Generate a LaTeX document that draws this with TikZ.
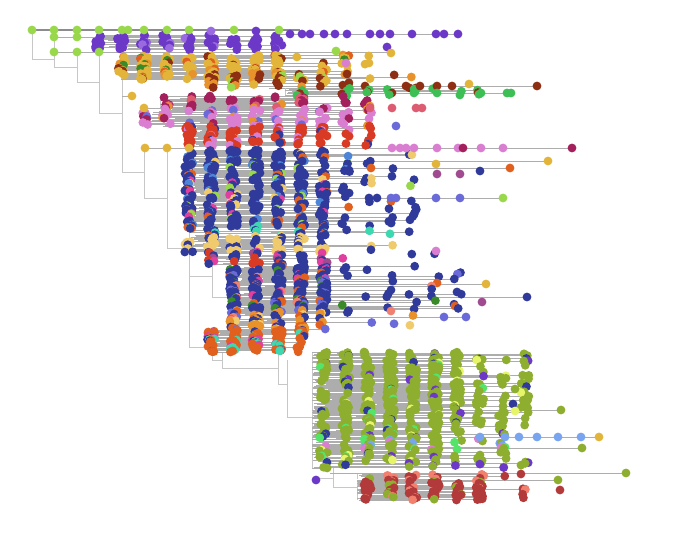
\documentclass[tikz,border=0pt]{standalone}
\usepackage{tikz}

\definecolor{cLime}{HTML}{98D84A}
\definecolor{cPurple}{HTML}{6C38C8}
\definecolor{cLilac}{HTML}{9A6AE0}
\definecolor{cGold}{HTML}{E2B53A}
\definecolor{cBrown}{HTML}{8E2E12}
\definecolor{cGreen}{HTML}{3EBF55}
\definecolor{cDkGreen}{HTML}{3A8A2A}
\definecolor{cMaroon}{HTML}{A4205C}
\definecolor{cRose}{HTML}{DD5C72}
\definecolor{cPink}{HTML}{D97ED0}
\definecolor{cRed}{HTML}{D83A24}
\definecolor{cNavy}{HTML}{2F3A9A}
\definecolor{cSlate}{HTML}{6A6AD8}
\definecolor{cSky}{HTML}{4C84D8}
\definecolor{cTeal}{HTML}{3ED8B0}
\definecolor{cSand}{HTML}{EFCB6E}
\definecolor{cMagenta}{HTML}{E03FA0}
\definecolor{cPlum}{HTML}{A04A90}
\definecolor{cOrange}{HTML}{E2601E}
\definecolor{cTan}{HTML}{E8922C}
\definecolor{cSalmon}{HTML}{F2806E}
\definecolor{cOlive}{HTML}{8EAE2F}
\definecolor{cSpring}{HTML}{55E46A}
\definecolor{cLemon}{HTML}{E6F56A}
\definecolor{cCorn}{HTML}{78A4F0}
\definecolor{cWine}{HTML}{B33A3A}

\pgfmathdeclarerandomlist{purpleL}{{cPurple}{cPurple}{cPurple}{cPurple}{cPurple}{cPurple}{cPurple}{cLilac}}
\pgfmathdeclarerandomlist{goldL}{{cGold}{cGold}{cGold}{cGold}{cGold}{cGold}{cGold}{cGold}{cGold}{cTan}{cBrown}{cDkGreen}{cOrange}}
\pgfmathdeclarerandomlist{brownL}{{cBrown}{cBrown}{cBrown}{cBrown}{cBrown}{cGold}{cTan}{cLime}}
\pgfmathdeclarerandomlist{greenL}{{cGreen}{cGreen}{cGreen}{cGreen}{cBrown}}
\pgfmathdeclarerandomlist{maroonL}{{cMaroon}{cMaroon}{cMaroon}{cMaroon}{cMaroon}{cMaroon}{cRose}{cTan}}
\pgfmathdeclarerandomlist{pinkL}{{cPink}{cPink}{cPink}{cPink}{cPink}{cPink}{cPink}{cPink}{cSlate}{cTan}{cMaroon}}
\pgfmathdeclarerandomlist{redL}{{cRed}{cRed}{cRed}{cRed}{cRed}{cRed}{cRed}{cRed}{cRed}{cPink}{cNavy}}
\pgfmathdeclarerandomlist{navyL}{{cNavy}{cNavy}{cNavy}{cNavy}{cNavy}{cNavy}{cNavy}{cNavy}{cNavy}{cNavy}{cNavy}{cNavy}{cNavy}{cNavy}{cNavy}{cNavy}{cNavy}{cNavy}{cNavy}{cNavy}{cLime}{cOrange}{cSky}{cSky}{cSand}{cMagenta}}
\pgfmathdeclarerandomlist{tealL}{{cNavy}{cNavy}{cNavy}{cNavy}{cTeal}{cTeal}{cOrange}}
\pgfmathdeclarerandomlist{sandL}{{cSand}{cSand}{cSand}{cNavy}{cNavy}}
\pgfmathdeclarerandomlist{magL}{{cNavy}{cNavy}{cNavy}{cNavy}{cMagenta}{cMagenta}{cRed}{cPlum}}
\pgfmathdeclarerandomlist{navyBL}{{cNavy}{cNavy}{cNavy}{cNavy}{cNavy}{cNavy}{cNavy}{cNavy}{cNavy}{cNavy}{cNavy}{cNavy}{cNavy}{cNavy}{cDkGreen}{cMagenta}{cSalmon}{cSlate}{cOrange}}
\pgfmathdeclarerandomlist{tanL}{{cTan}{cTan}{cTan}{cSand}{cNavy}{cNavy}{cNavy}{cSlate}{cOrange}{cSalmon}}
\pgfmathdeclarerandomlist{orangeL}{{cOrange}{cOrange}{cOrange}{cOrange}{cOrange}{cOrange}{cOrange}{cOrange}{cNavy}{cTeal}{cMagenta}}
\pgfmathdeclarerandomlist{oliveL}{{cOlive}{cOlive}{cOlive}{cOlive}{cOlive}{cOlive}{cOlive}{cOlive}{cOlive}{cOlive}{cOlive}{cOlive}{cOlive}{cOlive}{cOlive}{cOlive}{cOlive}{cOlive}{cOlive}{cOlive}{cOlive}{cOlive}{cOlive}{cOlive}{cNavy}{cPurple}{cSpring}{cLemon}}
\pgfmathdeclarerandomlist{springL}{{cOlive}{cOlive}{cOlive}{cOlive}{cOlive}{cOlive}{cSpring}{cPink}{cCorn}}
\pgfmathdeclarerandomlist{violetL}{{cPurple}{cPurple}{cOlive}{cOlive}{cOlive}{cNavy}}
\pgfmathdeclarerandomlist{salmonL}{{cSalmon}{cSalmon}{cWine}{cWine}{cOlive}}
\pgfmathdeclarerandomlist{wineL}{{cWine}{cWine}{cWine}{cWine}{cWine}{cWine}{cWine}{cWine}{cSalmon}{cOlive}}

\tikzset{
  stem/.style={draw=black!22, line width=0.8pt},
  twig/.style={draw=black!32, line width=0.25pt},
  trunk/.style={draw=black!45, line width=1.6pt},
}

% one dot at a tip
\newcommand\tipdot[3]{\fill[#1] (#2,#3) circle (4.4pt);}

% first pass draws the branches, second pass the tips
\newif\ifdotpass

% a clade: top, bottom, stem x, end of dense part, last x, tip colours, row gap
\newcommand\clade[7]{%
  \ifdotpass\else\draw[stem] (#3,#1) -- (#3,#2);\fi
  \pgfmathtruncatemacro\nrow{(#2-#1)/#7}
  \pgfmathtruncatemacro\kA{ceil((#3-34)/22.4)}
  \pgfmathtruncatemacro\kD{floor((#4-32)/22.4)}
  \pgfmathtruncatemacro\kB{max(floor((#5-32)/22.4),\kD+1)}
  \foreach \r in {0,...,\nrow}{
    \pgfmathsetmacro\yr{#1+\r*#7}
    \pgfmathsetmacro\u{rnd}
    \pgfmathtruncatemacro\kt{\u<0.88 ? \kA+floor((\kD-\kA+1)*\u/0.88) : \kD+1+floor((\kB-\kD)*(\u-0.88)/0.1201)}
    \pgfmathsetmacro\xt{32+22.4*\kt+8*rnd-4}
    \pgfmathsetmacro\xb{#3+(\xt-#3)*0.6*rnd*rnd}
    \pgfmathtruncatemacro\lk{rnd<0.45}
    \pgfmathrandomitem\ca{#6}
    \ifdotpass\fill[\ca] (\xt,\yr) circle (4.4pt);
    \else\ifnum\lk=1 \draw[twig] (\xb,\yr) -- (\xt,\yr);\fi\fi
  }
}

\newcommand\allclades{%
  \clade{35}{50}{99}{260}{300}{purpleL}{0.2}
  \clade{55}{80}{121}{300}{390}{goldL}{0.15}
  \clade{74}{88}{205}{350}{440}{brownL}{0.3}
  \clade{88}{96}{285}{420}{500}{greenL}{0.35}
  \clade{96}{108}{160}{345}{390}{maroonL}{0.25}
  \clade{108}{126}{144}{345}{380}{pinkL}{0.25}
  \clade{126}{146}{188}{345}{370}{redL}{0.2}
  \clade{150}{226}{189}{330}{430}{navyL}{0.18}
  \clade{226}{236}{189}{330}{420}{tealL}{0.3}
  \clade{236}{252}{189}{330}{420}{sandL}{0.25}
  \clade{252}{264}{210}{330}{440}{magL}{0.3}
  \clade{266}{310}{233}{345}{460}{navyBL}{0.2}
  \clade{310}{330}{233}{345}{440}{tanL}{0.25}
  \clade{330}{352}{212}{300}{320}{orangeL}{0.2}
  \clade{352}{438}{312}{460}{530}{oliveL}{0.18}
  \clade{438}{450}{312}{470}{510}{springL}{0.25}
  \clade{450}{462}{312}{460}{520}{oliveL}{0.25}
  \clade{462}{468}{312}{480}{530}{violetL}{0.35}
  \clade{474}{479}{357}{480}{530}{salmonL}{0.35}
  \clade{480}{500}{357}{480}{530}{wineL}{0.2}
}

\begin{document}
\begin{tikzpicture}[x=1pt, y=-1pt]
\useasboundingbox (0,0) rectangle (680,533);

% backbone
\draw[stem] (32,30) -- (32,59) -- (54,59);
\draw[stem] (54,37) -- (54,67) -- (77,67);
\draw[stem] (77,52) -- (77,82) -- (99,82);
\draw[stem] (99,52) -- (99,113) -- (122,113);
\draw[stem] (122,60) -- (122,172) -- (144,172);
\draw[stem] (144,148) -- (144,198) -- (167,198);
\draw[stem] (167,148) -- (167,248) -- (189,248);
\draw[stem] (189,148) -- (189,347) -- (212,347);
\draw[stem] (189,276) -- (212,276);
\draw[stem] (212,262) -- (212,297) -- (233,297);
\draw[stem] (212,333) -- (212,360) -- (222,360);
\draw[stem] (222,352) -- (222,368) -- (278,368);
\draw[stem] (278,352) -- (278,384) -- (287,384);
\draw[stem] (287,360) -- (287,417) -- (312,417);
\draw[stem] (312,478) -- (333,478);
\draw[stem] (333,468) -- (333,487) -- (357,487);

% branches
\pgfmathsetseed{4242}
\dotpassfalse
\allclades
\draw[trunk] (32,30) -- (300,30);
\draw[twig] (279,34) -- (458,34);
\draw[twig] (54,37) -- (122,37);
\draw[twig, line width=0.8pt] (54,52) -- (391,52);
\draw[twig] (122,96) -- (132,96);
\draw[twig] (144,148) -- (189,148);
\draw[twig] (300,86) -- (537,86);
\draw[twig] (300,93) -- (511,93);
\draw[twig] (330,148) -- (572,148);
\draw[twig] (340,161) -- (548,161);
\draw[twig] (330,168) -- (510,168);
\draw[twig] (330,198) -- (503,198);
\draw[twig] (330,284) -- (486,284);
\draw[twig] (330,297) -- (527,297);
\draw[twig] (330,317) -- (466,317);
\draw[twig] (312,437) -- (599,437);
\draw[twig] (312,448) -- (582,448);
\draw[twig] (312,410) -- (561,410);
\draw[twig] (330,473) -- (626,473);
\draw[twig] (357,480) -- (558,480);

% tips
\pgfmathsetseed{4242}
\dotpasstrue
\allclades

% top lineage
\foreach \x in {32,54,77,99,122,128,144,167,189,234,279}
  \tipdot{cLime}{\x}{30};
\tipdot{cLilac}{211}{31}
\tipdot{cPurple}{256}{31}
\foreach \x in {290,302,310,324,335,347,370,380,390,412,436,444,458}
  \tipdot{cPurple}{\x}{34};
\foreach \x in {54,77} \tipdot{cLime}{\x}{37};
\foreach \x in {54,77,99} \tipdot{cLime}{\x}{52};
\tipdot{cLime}{336}{51}
\tipdot{cPurple}{387}{47}
\tipdot{cGold}{391}{53}

% single tips and long tails
\tipdot{cGold}{132}{96}
\tipdot{cGold}{144}{108}
\tipdot{cRed}{189}{127}
\foreach \x in {145,167,189} \tipdot{cGold}{\x}{148};
\tipdot{cPink}{346}{63}
\tipdot{cGold}{369}{63}
\foreach \x in {406,420,437,452,537} \tipdot{cBrown}{\x}{86};
\tipdot{cGold}{469}{84}
\foreach \x in {414,437,481,507,511} \tipdot{cGreen}{\x}{93};
\foreach \x in {370,392,416,422} \tipdot{cRose}{\x}{108};
\tipdot{cSlate}{396}{126}
\foreach \x in {392,400,406,414,437,458,481,503} \tipdot{cPink}{\x}{148};
\foreach \x in {463,572} \tipdot{cMaroon}{\x}{148};
\tipdot{cGold}{436}{164}
\tipdot{cGold}{548}{161}
\foreach \x in {371,510} \tipdot{cOrange}{\x}{168};
\foreach \x in {437,460} \tipdot{cPlum}{\x}{174};
\tipdot{cNavy}{480}{171}
\foreach \x in {369,377} \tipdot{cNavy}{\x}{198};
\foreach \x in {391,396,436,460} \tipdot{cSlate}{\x}{198};
\tipdot{cLime}{503}{198}
\tipdot{cPink}{436}{251}
\tipdot{cGold}{486}{284}
\tipdot{cNavy}{457}{292}
\tipdot{cNavy}{527}{297}
\tipdot{cPlum}{482}{302}
\foreach \x in {444,466} \tipdot{cSlate}{\x}{317};
\tipdot{cOlive}{515}{389}
\tipdot{cNavy}{513}{404}
\tipdot{cLemon}{515}{411}
\tipdot{cOlive}{561}{410}
\foreach \x in {480,505,519,537,558,581} \tipdot{cCorn}{\x}{437};
\tipdot{cGold}{599}{437}
\tipdot{cOlive}{582}{448}
\tipdot{cOlive}{626}{473}
\tipdot{cPurple}{316}{480}
\tipdot{cOlive}{558}{480}
\tipdot{cWine}{560}{490}
\end{tikzpicture}
\end{document}
